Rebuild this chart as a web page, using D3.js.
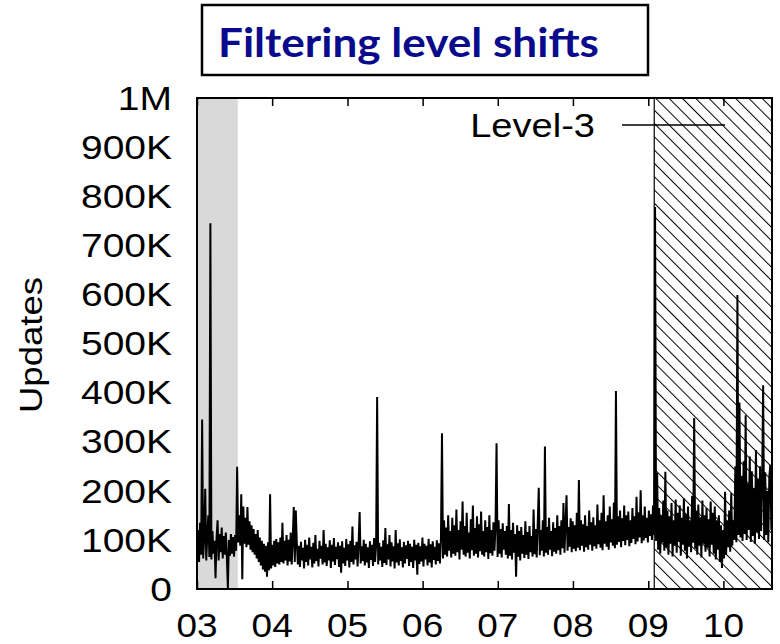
<!DOCTYPE html>
<html>
<head>
<meta charset="utf-8">
<script src="https://cdn.jsdelivr.net/npm/d3@7"></script>
<style>
  html, body { margin: 0; padding: 0; background: #fff; }
  svg { display: block; }
</style>
</head>
<body>
<svg id="chart" width="780" height="644"></svg>
<script>
// BGP update counts for the Level-3 feed, in thousands, one sample every 5 days from 2003-01-01
const seriesStart = "2003-01-01";
const sampleDays = 5;
const updatesK = [
  // 2003 H1
  60,120,55,135,70,345,62,105,204,58,110,150,65,745,60,118,72,98,22,104,
  140,58,112,75,125,62,108,70,115,64,2,100,68,112,72,106,66,110,78,249,
  // 2003 H2 – 2004
  95,150,88,193,20,168,92,145,85,167,90,138,80,130,75,122,70,112,62,120,
  55,105,48,98,40,92,35,88,25,95,38,193,42,90,48,98,45,102,52,95,
  50,105,55,135,52,98,58,110,48,100,56,115,50,102,167,55,160,
  // 2004 – mid 2006
  92,50,88,45,96,58,84,42,100,55,90,48,105,60,86,44,94,52,110,57,
  82,46,98,62,88,50,120,54,92,47,85,58,99,43,90,56,104,49,86,61,
  95,45,88,33,97,52,84,47,102,58,91,44,98,55,127,50,89,60,96,46,
  93,157,52,87,57,100,48,92,54,85,43,97,59,90,47,104,55,88,391,50,
  94,58,86,45,99,53,124,49,91,60,110,46,95,56,87,42,120,54,93,48,
  101,57,85,44,96,52,89,61,98,47,92,55,86,43,100,58,90,29,94,51,
  87,56,105,46,92,60,88,48,102,54,91,44,97,59,86,50,99,57,93,52,104,
  // mid 2006 – early 2007
  317,62,140,70,125,66,150,78,118,64,145,72,130,68,162,75,120,60,138,80,
  178,70,128,66,155,74,115,62,142,79,170,68,124,72,148,64,132,77,158,70,
  118,66,140,75,126,61,150,73,120,68,136,78,128,297,65,140,72,122,64,134,
  80,118,70,
  // 2007 – early 2009
  128,62,173,68,120,60,135,74,112,25,130,66,118,58,126,72,110,63,138,70,
  116,61,128,75,108,66,162,71,122,64,133,206,69,120,78,140,66,290,74,126,
  70,145,80,118,67,136,76,124,72,150,79,128,70,140,83,175,74,132,191,78,
  126,86,144,75,138,82,130,77,155,84,222,79,140,88,132,76,150,85,128,80,
  160,90,136,78,146,87,130,82,172,91,140,84,155,79,191,92,138,86,150,80,
  168,95,142,88,176,83,403,90,148,96,160,85,144,98,170,89,150,100,158,87,
  140,94,165,102,148,91,188,97,156,105,201,93,150,99,168,104,145,95,160,108,
  152,100,170,110,
  // 2009 – early 2010
  778,98,236,80,165,72,150,95,180,78,239,85,160,70,148,92,175,66,140,88,
  182,74,155,96,170,68,145,90,185,78,152,62,168,86,140,75,190,94,348,82,
  158,70,172,88,146,64,180,92,150,76,165,84,142,66,178,90,155,72,168,60,
  140,80,150,55,130,43,120,62,198,70,140,85,160,76,195,88,
  // 2010
  140,100,250,95,599,110,380,105,230,98,260,112,354,100,215,120,270,96,240,108,
  205,92,283,115,225,102,250,118,210,415,100,238,110,200,95,230,253,120,175
];

const axisStart = "2003-01-01";
const axisEnd = "2010-08-25";
const yearTicks = ["2003","2004","2005","2006","2007","2008","2009","2010"];
const yearLabels = ["03","04","05","06","07","08","09","10"];
const yTickValues = [0,100000,200000,300000,400000,500000,600000,700000,800000,900000,1000000];
const yTickLabels = ["0","100K","200K","300K","400K","500K","600K","700K","800K","900K","1M"];
// Shaded periods: grey band and hatched band
const greyPeriod = ["2003-01-01","2003-07-18"];
const hatchPeriod = ["2009-01-30","2010-08-25"];
const titleText = "Filtering level shifts";
const legendText = "Level-3";
const yTitle = "Updates";

const parse = d3.utcParse("%Y-%m-%d");
const parseYear = d3.utcParse("%Y");
const t0 = parse(seriesStart);
const data = updatesK.map((v, i) => ({
  date: d3.utcDay.offset(t0, i * sampleDays),
  value: v * 1000
}));

const svg = d3.select("#chart");
const plotLeft = 197, plotRight = 772, plotTop = 98, plotBottom = 589;

const x = d3.scaleUtc().domain([parse(axisStart), parse(axisEnd)]).range([plotLeft, plotRight]);
const y = d3.scaleLinear().domain([0, 1000000]).range([plotBottom, plotTop]);

const defs = svg.append("defs");
defs.append("clipPath").attr("id", "plotClip")
  .append("rect").attr("x", plotLeft).attr("y", plotTop)
  .attr("width", plotRight - plotLeft).attr("height", plotBottom - plotTop);

const hatch = defs.append("pattern")
  .attr("id", "hatch")
  .attr("patternUnits", "userSpaceOnUse")
  .attr("width", 9.4).attr("height", 9.4)
  .attr("patternTransform", "translate(11.7,0) rotate(-45)");
hatch.append("rect").attr("x", 0).attr("y", 0).attr("width", 1).attr("height", 9.4).attr("fill", "#000");

// Title box
svg.append("rect")
  .attr("x", 202).attr("y", 5).attr("width", 446).attr("height", 70)
  .attr("fill", "#fff").attr("stroke", "#000").attr("stroke-width", 2.5);
svg.append("text")
  .attr("x", 218).attr("y", 57)
  .attr("font-family", "Lato, 'Open Sans', sans-serif")
  .attr("font-weight", "bold")
  .attr("font-size", 40)
  .attr("fill", "#0a0a8c")
  .attr("textLength", 381)
  .attr("lengthAdjust", "spacingAndGlyphs")
  .text(titleText);

// Shaded periods
const plot = svg.append("g").attr("clip-path", "url(#plotClip)");
plot.append("rect")
  .attr("x", x(parse(greyPeriod[0]))).attr("y", plotTop)
  .attr("width", x(parse(greyPeriod[1])) - x(parse(greyPeriod[0])))
  .attr("height", plotBottom - plotTop)
  .attr("fill", "#d9d9d9");
const hx0 = x(parse(hatchPeriod[0])), hx1 = x(parse(hatchPeriod[1]));
plot.append("rect")
  .attr("x", hx0).attr("y", plotTop).attr("width", hx1 - hx0).attr("height", plotBottom - plotTop)
  .attr("fill", "url(#hatch)");
plot.append("line")
  .attr("x1", hx0).attr("x2", hx0).attr("y1", plotTop).attr("y2", plotBottom)
  .attr("stroke", "#000").attr("stroke-width", 1.2);

// Series line
const line = d3.line().x(d => x(d.date)).y(d => y(d.value));
plot.append("path")
  .datum(data)
  .attr("d", line)
  .attr("fill", "none")
  .attr("stroke", "#000")
  .attr("stroke-width", 2)
  .attr("stroke-linejoin", "miter");

// Inward year ticks on top and bottom
const tickDates = yearTicks.map(parseYear);
svg.append("g").attr("transform", `translate(0,${plotBottom})`)
  .call(d3.axisBottom(x).tickValues(tickDates).tickSize(-8).tickFormat(""))
  .call(g => g.select(".domain").remove())
  .call(g => g.selectAll("line").attr("stroke", "#000").attr("stroke-width", 1.5));
svg.append("g").attr("transform", `translate(0,${plotTop})`)
  .call(d3.axisTop(x).tickValues(tickDates).tickSize(-8).tickFormat(""))
  .call(g => g.select(".domain").remove())
  .call(g => g.selectAll("line").attr("stroke", "#000").attr("stroke-width", 1.5));

// Frame
svg.append("rect")
  .attr("x", plotLeft).attr("y", plotTop)
  .attr("width", plotRight - plotLeft).attr("height", plotBottom - plotTop)
  .attr("fill", "none").attr("stroke", "#000").attr("stroke-width", 2);

const labelFont = "'Liberation Sans', Arial, Helvetica, sans-serif";

// Y tick labels (wide Helvetica look)
const ySx = 1.2;
svg.append("g").selectAll("text")
  .data(yTickValues)
  .join("text")
  .attr("transform", d => `translate(172,${y(d)}) scale(${ySx},1)`)
  .attr("dy", "0.36em")
  .attr("text-anchor", "end")
  .attr("font-family", labelFont)
  .attr("font-size", 32.5)
  .attr("fill", "#000")
  .text((d, i) => yTickLabels[i]);

// X tick labels
const xSx = 1.12;
svg.append("g").selectAll("text")
  .data(tickDates)
  .join("text")
  .attr("transform", d => `translate(${x(d)},636.5) scale(${xSx},1)`)
  .attr("text-anchor", "middle")
  .attr("font-family", labelFont)
  .attr("font-size", 33)
  .attr("fill", "#000")
  .text((d, i) => yearLabels[i]);

// Y axis title
svg.append("text")
  .attr("transform", "translate(42,345) rotate(-90) scale(1.18,1)")
  .attr("text-anchor", "middle")
  .attr("font-family", labelFont)
  .attr("font-size", 31)
  .attr("fill", "#000")
  .text(yTitle);

// Legend
svg.append("text")
  .attr("transform", "translate(595,136.7) scale(1.12,1)")
  .attr("text-anchor", "end")
  .attr("font-family", labelFont)
  .attr("font-size", 34)
  .attr("fill", "#000")
  .text(legendText);
svg.append("line")
  .attr("x1", 622).attr("x2", 725).attr("y1", 125).attr("y2", 125)
  .attr("stroke", "#000").attr("stroke-width", 1.5);
</script>
</body>
</html>
